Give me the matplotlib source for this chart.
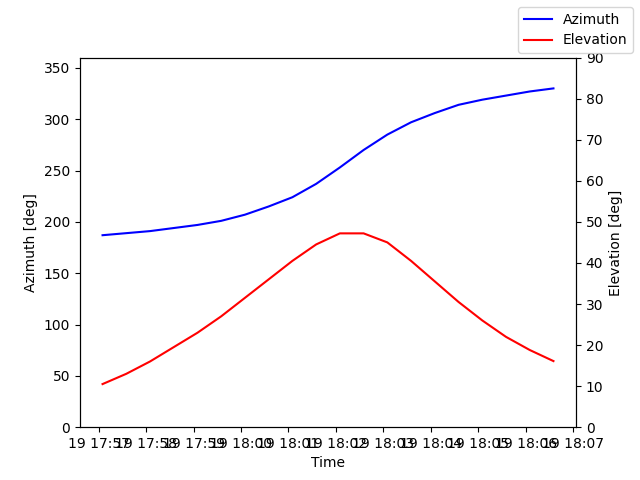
import matplotlib
matplotlib.use("Agg")
import matplotlib.pyplot as plt
import matplotlib.dates as mdates
import numpy as np
import datetime as dt

start = dt.datetime(2024, 1, 19, 17, 57, 5)
times = [start + dt.timedelta(seconds=30 * i) for i in range(20)]
azimuth = [187, 189, 191, 194, 197, 201, 207, 215, 224, 237, 253, 270, 285, 297, 306, 314, 319, 323, 327, 330]
elevation = [10.5, 13, 16, 19.5, 23, 27, 31.5, 36, 40.5, 44.5, 47.2, 47.2, 45, 40.5, 35.5, 30.5, 26, 22, 18.8, 16.1]

fig, ax = plt.subplots(figsize=(6.4, 4.8), dpi=100)
ax.plot(times, azimuth, color="blue", label="Azimuth")
ax.set_ylim(0, 360)
ax.set_ylabel("Azimuth [deg]")
ax.set_xlabel("Time")
ax2 = ax.twinx()
ax2.plot(times, elevation, color="red", label="Elevation")
ax2.set_ylim(0, 90)
ax2.set_ylabel("Elevation [deg]")
ax.xaxis.set_major_locator(mdates.MinuteLocator())
ax.xaxis.set_major_formatter(mdates.DateFormatter("%d %H:%M"))
fig.legend(loc="upper right")
fig.savefig("out.png")
